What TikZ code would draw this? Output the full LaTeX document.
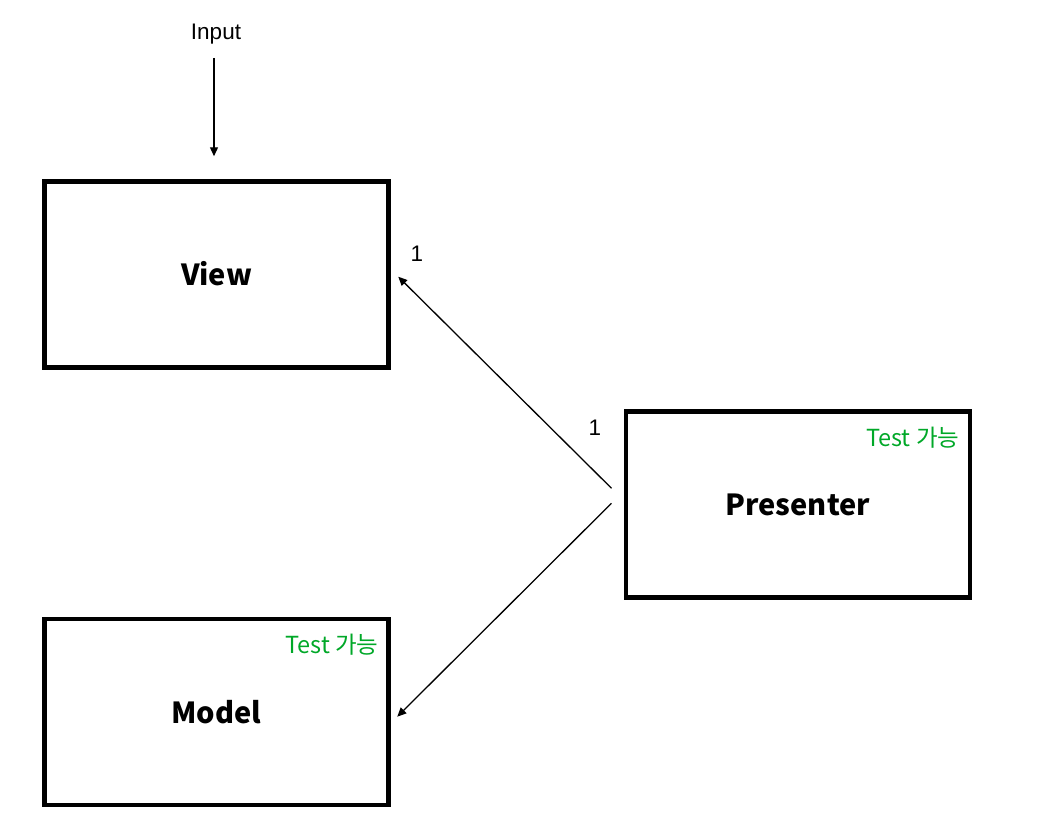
\documentclass[tikz,border=0pt]{standalone}
\usepackage{fontspec}
\setmainfont{Liberation Sans}
\newfontfamily\cjk{Noto Sans CJK KR}
\usetikzlibrary{arrows.meta}
\definecolor{testgreen}{RGB}{0,168,40}
\tikzset{
  box/.style={draw, line width=4.5pt, minimum width=344pt, minimum height=186pt, inner sep=0pt,
    font=\cjk\bfseries\fontsize{29}{35}\selectfont, text height=22pt, text depth=0pt},
  lbl/.style={inner sep=0pt, font=\fontsize{22.5}{27}\selectfont},
  testlbl/.style={inner sep=0pt, text=testgreen, font=\cjk\fontsize{23.5}{28}\selectfont},
  arr/.style={line width=1.3pt, -{Triangle[length=9pt,width=8pt]}}
}
\begin{document}
\begin{tikzpicture}[x=1pt,y=-1pt]
\useasboundingbox[fill=white] (0,0) rectangle (1058,839);
\node[box] (view) at (216.5,274.5) {View};
\node[box] (presenter) at (797.75,504.25) {Presenter};
\node[box] (model) at (216.5,712) {Model};
\node[testlbl, anchor=base east] (ptest) at ([xshift=-12.5pt,yshift=-37.5pt]presenter.north east) {Test 가능};
\node[testlbl, anchor=base east] (mtest) at ([xshift=-12pt,yshift=-36.5pt]model.north east) {Test 가능};
\node[lbl, anchor=base] (input) at (216,39) {Input};
\node[lbl] (one1) at (417,254) {1};
\node[lbl] (one2) at (595,427.5) {1};
\coordinate (inE) at ([xshift=-2.5pt,yshift=23pt]view.north);
\draw[arr, shorten <=14pt] (input.south -| inE) -- (inE);
\coordinate (pv) at ([xshift=-12pt,yshift=16pt]presenter.west);
\coordinate (pm) at ([xshift=-12pt,yshift=1pt]presenter.west);
\coordinate (vt) at ([xshift=7.5pt,yshift=-2.2pt]view.east);
\coordinate (mt) at ([xshift=6.5pt,yshift=-4.7pt]model.east);
\draw[arr] (pv) -- (vt);
\draw[arr] (pm) -- (mt);
\end{tikzpicture}
\end{document}
